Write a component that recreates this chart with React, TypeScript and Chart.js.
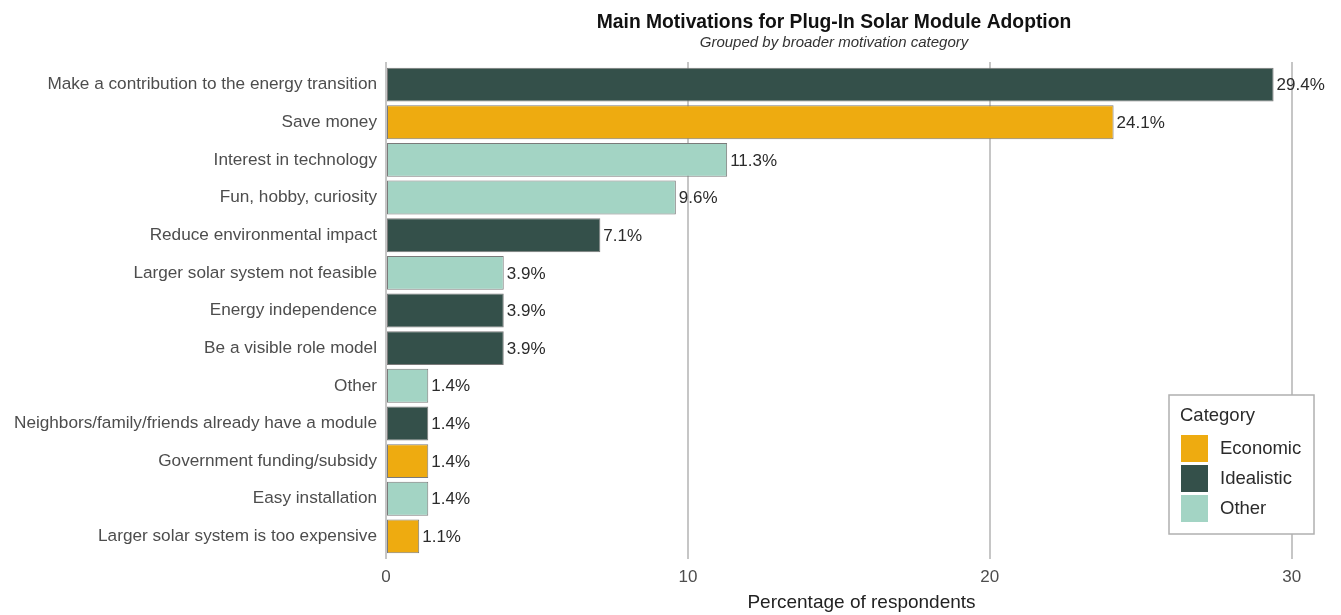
import React, { useEffect, useRef } from "react";
import { Chart, registerables } from "chart.js";

Chart.register(...registerables);

const categories = [
  "Make a contribution to the energy transition",
  "Save money",
  "Interest in technology",
  "Fun, hobby, curiosity",
  "Reduce environmental impact",
  "Larger solar system not feasible",
  "Energy independence",
  "Be a visible role model",
  "Other",
  "Neighbors/family/friends already have a module",
  "Government funding/subsidy",
  "Easy installation",
  "Larger solar system is too expensive",
];
const values = [29.4, 24.1, 11.3, 9.6, 7.1, 3.9, 3.9, 3.9, 1.4, 1.4, 1.4, 1.4, 1.1];
const groups = [
  "Idealistic", "Economic", "Other", "Other", "Idealistic", "Other", "Idealistic",
  "Idealistic", "Other", "Idealistic", "Economic", "Other", "Economic",
];
const groupNames = ["Economic", "Idealistic", "Other"];
const groupColors = ["#eeab10", "#34504a", "#a3d4c4"];
const xTicks = [0, 10, 20, 30];

const titleText = "Main Motivations for Plug-In Solar Module Adoption";
const subtitleText = "Grouped by broader motivation category";
const xTitle = "Percentage of respondents";
const legendTitle = "Category";

const FONT = '"Liberation Sans", Arial, Helvetica, sans-serif';

const decorPlugin = {
  id: "decor",
  beforeDraw(chart: any) {
    const { ctx } = chart;
    ctx.save();
    ctx.fillStyle = "#ffffff";
    ctx.fillRect(0, 0, chart.width, chart.height);
    ctx.restore();
  },
  afterDatasetsDraw(chart: any) {
    const { ctx } = chart;
    ctx.save();
    ctx.font = `17px ${FONT}`;
    ctx.fillStyle = "#2b2b2b";
    ctx.textBaseline = "middle";
    ctx.textAlign = "left";
    chart.data.datasets.forEach((ds: any, di: number) => {
      const meta = chart.getDatasetMeta(di);
      meta.data.forEach((el: any, j: number) => {
        const v = ds.data[j].x;
        ctx.fillText(v.toFixed(1) + "%", el.x + 3, el.y + 1);
      });
    });
    ctx.restore();
  },
  afterDraw(chart: any) {
    const { ctx, chartArea } = chart;
    ctx.save();
    const cx = 834;
    ctx.textAlign = "center";
    ctx.textBaseline = "alphabetic";
    ctx.fillStyle = "#111111";
    ctx.font = `bold 19.3px ${FONT}`;
    ctx.fillText(titleText, cx, 28);
    ctx.fillStyle = "#333333";
    ctx.font = `italic 15px ${FONT}`;
    ctx.fillText(subtitleText, cx, 47);

    const bw = 145;
    const bh = 139;
    const bx = chartArea.right - 23 - bw;
    const by = chartArea.bottom - 25 - bh;
    ctx.fillStyle = "#ffffff";
    ctx.fillRect(bx, by, bw, bh);
    ctx.strokeStyle = "#b0b0b0";
    ctx.lineWidth = 1.5;
    ctx.strokeRect(bx, by, bw, bh);
    ctx.textAlign = "left";
    ctx.textBaseline = "middle";
    ctx.fillStyle = "#2b2b2b";
    ctx.font = `18.5px ${FONT}`;
    ctx.fillText(legendTitle, bx + 11, by + 21);
    groupNames.forEach((g, i) => {
      const sy = by + 40 + i * 30;
      ctx.fillStyle = groupColors[i];
      ctx.fillRect(bx + 12, sy, 27, 27);
      ctx.fillStyle = "#2b2b2b";
      ctx.font = `18.5px ${FONT}`;
      ctx.fillText(g, bx + 51, sy + 14);
    });
    ctx.restore();
  },
};

export default function App() {
  const ref = useRef<HTMLCanvasElement | null>(null);
  useEffect(() => {
    if (!ref.current) return;
    const datasets = groupNames.map((g, gi) => ({
      label: g,
      data: categories
        .map((c, i) => ({ x: values[i], y: i, g: groups[i] }))
        .filter((d) => d.g === g)
        .map((d) => ({ x: d.x, y: d.y })),
      backgroundColor: groupColors[gi],
      borderColor: "#7a7a7a",
      borderWidth: 1,
      borderSkipped: false,
      categoryPercentage: 0.9,
      barPercentage: 1,
      grouped: false,
    }));
    const chart = new Chart(ref.current, {
      type: "bar",
      data: { datasets },
      plugins: [decorPlugin],
      options: {
        indexAxis: "y",
        animation: false,
        responsive: false,
        layout: { padding: { top: 62, right: 4, left: 0, bottom: 0 } },
        plugins: {
          legend: { display: false },
          tooltip: { enabled: false },
          title: { display: false },
        },
        scales: {
          x: {
            type: "linear",
            min: 0,
            max: 31.5,
            offset: false,
            afterBuildTicks: (axis: any) => {
              axis.ticks = xTicks.map((v) => ({ value: v }));
            },
            afterFit: (scale: any) => {
              scale.height = 56;
            },
            grid: { color: "#c6c6c6", lineWidth: 2, drawTicks: false, offset: false },
            border: { display: false },
            ticks: {
              padding: 8,
              color: "#4d4d4d",
              font: { family: FONT, size: 17 },
            },
            title: {
              display: true,
              text: xTitle,
              color: "#222222",
              font: { family: FONT, size: 19 },
              padding: { top: 2, bottom: 1 },
            },
          },
          y: {
            type: "linear",
            reverse: true,
            min: -0.6,
            max: 12.6,
            offset: false,
            afterBuildTicks: (axis: any) => {
              axis.ticks = categories.map((_, i) => ({ value: i }));
            },
            afterFit: (scale: any) => {
              scale.width = 386;
            },
            grid: { display: false, drawTicks: false, offset: false },
            border: { display: false },
            ticks: {
              autoSkip: false,
              padding: 9,
              color: "#4d4d4d",
              font: { family: FONT, size: 17.2 },
              callback: (v: any) => categories[v as number] ?? "",
            },
          },
        },
      },
    } as any);
    return () => chart.destroy();
  }, []);
  return (
    <div style={{ position: "fixed", left: 0, top: 0, width: 1341, height: 615, background: "#fff" }}>
      <canvas ref={ref} width={1341} height={615} style={{ display: "block" }} />
    </div>
  );
}
